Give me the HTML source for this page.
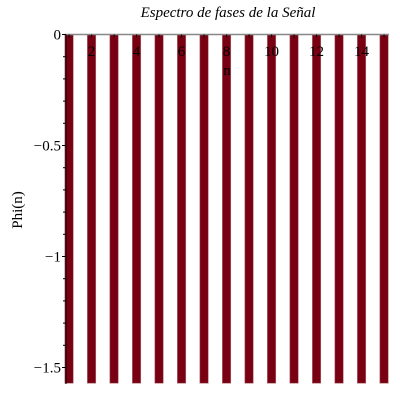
<!DOCTYPE html>
<html><head><meta charset="utf-8"><style>
body{margin:0;background:#fff}
svg text{font-family:"Liberation Serif",serif;}
</style></head><body>
<svg width="400" height="400" viewBox="0 0 400 400">
<text x="228" y="17" text-anchor="middle" font-size="15" font-style="italic">Espectro de fases de la Señal</text>
<g id="bars"></g>
<g id="axes"></g>
<text x="227" y="75" text-anchor="middle" font-size="15">n</text>
<text transform="translate(22,210) rotate(-90)" text-anchor="middle" font-size="15">Phi(n)</text>
</svg>
<script>
const ns="http://www.w3.org/2000/svg";
const categories=[1,2,3,4,5,6,7,8,9,10,11,12,13,14,15];
const phaseValues=[-1.5708,-1.5708,-1.5708,-1.5708,-1.5708,-1.5708,-1.5708,-1.5708,-1.5708,-1.5708,-1.5708,-1.5708,-1.5708,-1.5708,-1.5708];
const xTicks=[2,4,6,8,10,12,14];
const yTicks=[0,-0.5,-1,-1.5];
const yTickLabels=["0","\u22120.5","\u22121","\u22121.5"];
const X=n=>65+(n-0.82)*22.5;
const Y=v=>34.5-v*222;
function mk(t,a,p){const e=document.createElementNS(ns,t);for(const k in a)e.setAttribute(k,a[k]);p.appendChild(e);return e;}
const bars=document.getElementById('bars'),axes=document.getElementById('axes');
categories.forEach((n,i)=>{
 const v=phaseValues[i];
 const r=mk('rect',{x:X(n)-4.2,y:Math.min(Y(0),Y(v)),width:8.4,height:Math.abs(Y(v)-Y(0)),fill:'#780012',stroke:'#b07078','stroke-width':0.6},bars);
 
 
});
const xl=mk('line',{x1:65,y1:Y(0),x2:389,y2:Y(0),stroke:'#888','stroke-width':1.5},axes);


const yl=mk('line',{x1:66,y1:Y(0),x2:66,y2:384,stroke:'#000','stroke-width':1},axes);


for(let n=1;n<=15;n++){mk('line',{x1:X(n),y1:Y(0),x2:X(n),y2:Y(0)+3,stroke:'#000','stroke-width':1},axes);}
xTicks.forEach(n=>{
 const t=mk('text',{x:X(n),y:56,'text-anchor':'middle','font-size':15},axes);
 t.textContent=n;
 
 
});
for(let k=0;k<=15;k++){const v=-k*0.1;mk('line',{x1:66,y1:Y(v),x2:k%5==0?62:63,y2:Y(v),stroke:'#000','stroke-width':1},axes);}
yTicks.forEach((v,i)=>{
 const t=mk('text',{x:61,y:Y(v)+5,'text-anchor':'end','font-size':15},axes);
 t.textContent=yTickLabels[i];
 
 
});
</script>
</body></html>
